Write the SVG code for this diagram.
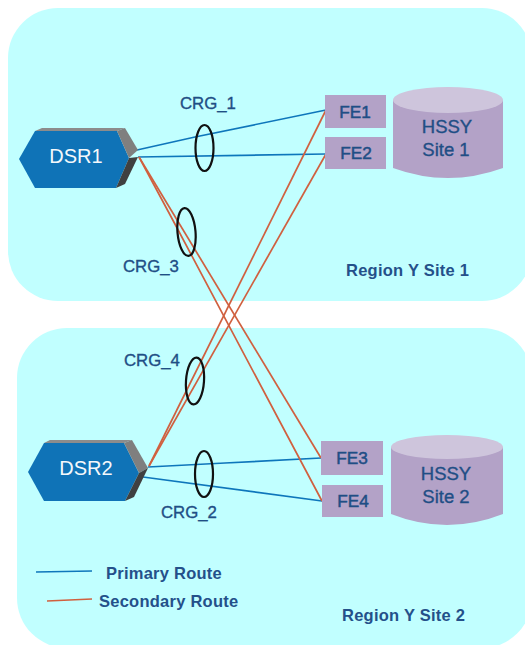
<svg xmlns="http://www.w3.org/2000/svg" width="525" height="645" viewBox="0 0 525 645">
<defs><filter id="soft" x="-5%" y="-5%" width="110%" height="110%"><feGaussianBlur stdDeviation="0.4"/></filter></defs>
<style>
text{font-family:"Liberation Sans",Arial,sans-serif;fill:#1f4e85}
.note{font-size:16.5px;font-weight:bold;fill:#24508a;letter-spacing:.25px}
.lbl{font-size:16.8px;stroke:#1f4e85;stroke-width:.35}
.fe{font-size:17.2px;text-anchor:middle;stroke:#1f4e85;stroke-width:.5}
.box{fill:#b3a2c7}
.pri{stroke:#0f76bb;stroke-width:1.7;fill:none}
.sec{stroke:#d0603f;stroke-width:1.7;fill:none}
.ring{fill:none;stroke:#111;stroke-width:2.2}
.dsr{font-size:20px;fill:#f4f8fb;text-anchor:middle}
.cyl{font-size:18.5px;text-anchor:middle;stroke:#1f4e85;stroke-width:.35}
</style>
<rect width="525" height="645" fill="#fff"/>
<g id="region1"><rect x="8" y="8" width="524" height="293" rx="50" fill="#c1ffff"/></g>
<g id="region2"><rect x="17" y="328" width="515" height="320" rx="50" fill="#c1ffff"/></g>
<g id="connectors" filter="url(#soft)">
<path class="pri" d="M137 150L195 137L326 110"/>
<path class="pri" d="M138 157L326 154"/>
<path class="pri" d="M148 467L225 463L321 458"/>
<path class="pri" d="M143 477L322 501"/>
<path class="sec" d="M139 157L321 458"/>
<path class="sec" d="M139 157L176 226L322 501"/>
<path class="sec" d="M149 466L326 110"/>
<path class="sec" d="M149 466L326 154"/>
</g>
<g id="DSR1"><path d="M35 131L117 131L129 158L116 188L35 188L19 159Z" fill="#0f73b7"/>
<path d="M35 131L42 128L125 128L117 131Z" fill="#8c8c8c"/>
<path d="M117 131L125 128L138 150L129 158Z" fill="#7f7f7f"/>
<path d="M129 158L138 157L125 184L116 188Z" fill="#404040"/>
<text class="dsr" x="76" y="163">DSR1</text></g>
<g id="DSR2"><path d="M44 443L124 443L139 473L125 501L44 501L28 472Z" fill="#0f73b7"/>
<path d="M44 443L50 440L132 440L124 443Z" fill="#8c8c8c"/>
<path d="M124 443L132 440L148 468L139 473Z" fill="#7f7f7f"/>
<path d="M139 473L148 468L134 497L125 501Z" fill="#404040"/>
<text class="dsr" x="86" y="475">DSR2</text></g>
<g id="FE1"><rect class="box" x="325" y="95" width="61" height="33"/><text class="fe" x="355" y="118">FE1</text></g>
<g id="FE2"><rect class="box" x="325" y="137" width="61" height="32"/><text class="fe" x="356" y="159">FE2</text></g>
<g id="FE3"><rect class="box" x="321" y="441" width="62" height="34"/><text class="fe" x="352" y="464">FE3</text></g>
<g id="FE4"><rect class="box" x="322" y="485" width="61" height="32"/><text class="fe" x="353" y="507">FE4</text></g>
<g id="HSSY1"><path d="M393 100V168Q448 188 503 168V100Z" fill="#b3a2c7"/><ellipse cx="448" cy="100" rx="55" ry="13" fill="#cec5dc"/><text class="cyl" x="447" y="133">HSSY</text><text class="cyl" x="446" y="156">Site 1</text></g>
<g id="HSSY2"><path d="M391 447V514Q447 536 503 514V447Z" fill="#b3a2c7"/><ellipse cx="447" cy="447" rx="56" ry="12" fill="#cec5dc"/><text class="cyl" x="446" y="480">HSSY</text><text class="cyl" x="446" y="503">Site 2</text></g>
<g id="rings">
<ellipse class="ring" cx="204.5" cy="148" rx="9" ry="23"/>
<ellipse class="ring" cx="186.5" cy="232" rx="9" ry="24" transform="rotate(-5 186.5 232)"/>
<ellipse class="ring" cx="195" cy="381" rx="9" ry="23.5" transform="rotate(4 195 381)"/>
<ellipse class="ring" cx="204" cy="474" rx="9" ry="23"/>
</g>
<g id="labels">
<text class="lbl" x="180" y="109">CRG_1</text>
<text class="lbl" x="123" y="272">CRG_3</text>
<text class="lbl" x="124" y="366">CRG_4</text>
<text class="lbl" x="161" y="518">CRG_2</text>
<text class="note" x="346" y="276">Region Y Site 1</text>
<text class="note" x="342" y="621">Region Y  Site 2</text>
</g>
<g id="legend">
<path class="pri" d="M36 572L92 571"/>
<path class="sec" d="M47 601L92 599"/>
<text class="note" x="106" y="579">Primary Route</text>
<text class="note" x="99" y="607">Secondary Route</text>
</g>
</svg>
